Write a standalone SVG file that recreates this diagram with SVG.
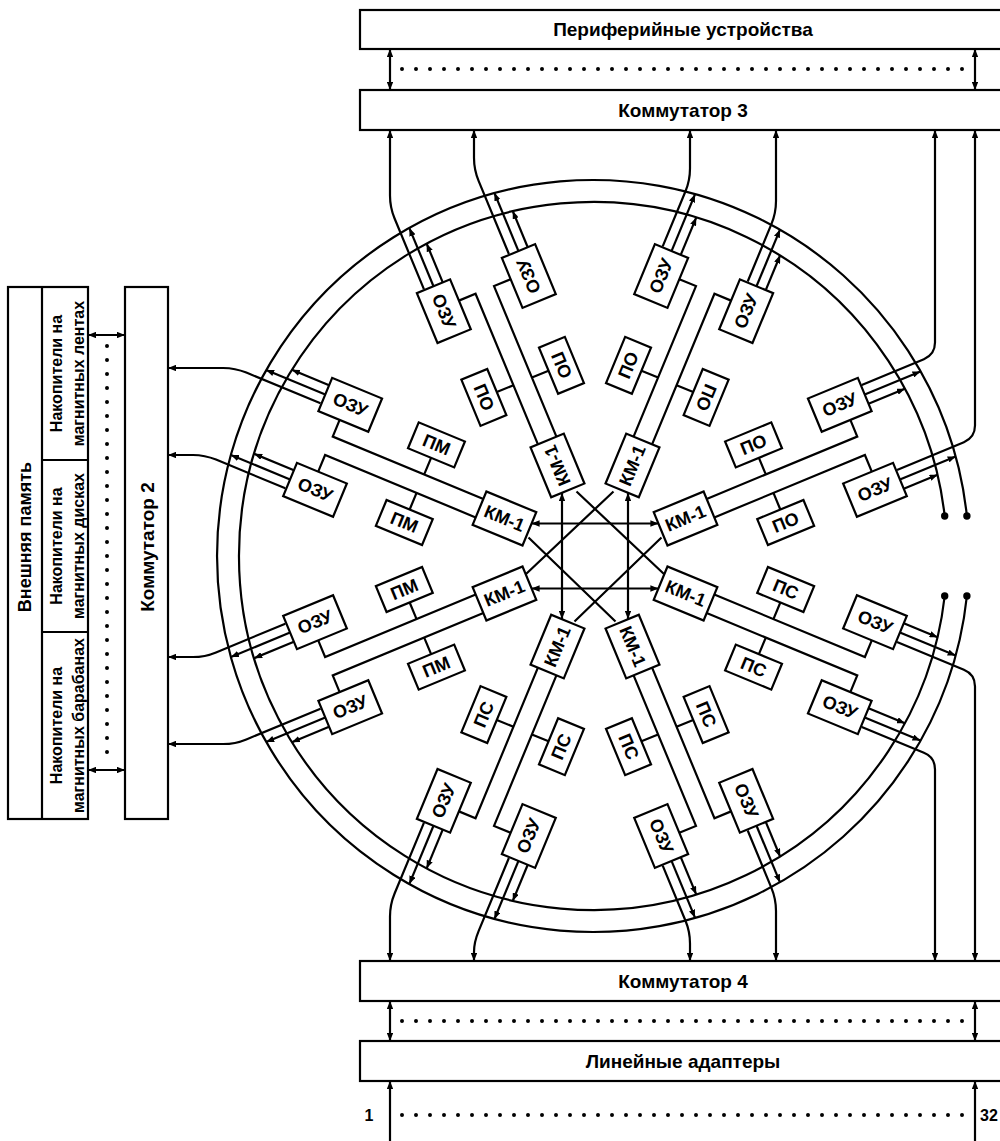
<svg xmlns="http://www.w3.org/2000/svg" width="1000" height="1141" viewBox="0 0 1000 1141">
<style>
.b{fill:#fff;stroke:#000;stroke-width:2.2}
.l{fill:none;stroke:#000;stroke-width:2.2}
.d{fill:none;stroke:#000;stroke-width:4;stroke-linecap:round;stroke-dasharray:0 14}
.t{font-family:"Liberation Sans",Arial,sans-serif;font-weight:bold;font-size:18px;text-anchor:middle;dominant-baseline:central}
.h{font-size:19px}
.s{font-size:16px}
.n{font-size:16px}
</style>
<defs>
<marker id="a" viewBox="0 0 10 8" refX="10" refY="4" markerWidth="8" markerHeight="6.4" markerUnits="userSpaceOnUse" orient="auto-start-reverse"><path d="M0 0L10 4L0 8z"/></marker>
</defs>
<rect width="1000" height="1141" fill="#fff"/>

<g id="connectors" class="l">
  <path d="M944.7 516A354 354 0 1 0 944.7 596"/>
  <path d="M966.9 516A376 376 0 1 0 966.9 596"/>
  <circle cx="944.7" cy="516" r="2.6" fill="#000"/>
  <circle cx="966.9" cy="516" r="2.6" fill="#000"/>
  <circle cx="944.7" cy="596" r="2.6" fill="#000"/>
  <circle cx="966.9" cy="596" r="2.6" fill="#000"/>

  <path marker-start="url(#a)" marker-end="url(#a)" d="M531.6 523.5H658.4"/>
  <path marker-start="url(#a)" marker-end="url(#a)" d="M531.6 588.5H658.4"/>
  <path marker-start="url(#a)" marker-end="url(#a)" d="M562 493V619"/>
  <path marker-start="url(#a)" marker-end="url(#a)" d="M628 493V619"/>
  <path d="M576.5 491.5L664.5 574.5M613.5 491.5L525.5 574.5M528.5 537.5L615.5 621.5M661.5 537.5L574.5 621.5"/>

  <g transform="translate(595 556) rotate(-22.5)">
    <path d="M125 -10H288V-28M125 10H288V28M189 -10V-28M189 10V28"/>
    <path marker-end="url(#a)" d="M311 -46H371.3"/><path marker-end="url(#a)" d="M311 -36H350.3"/>
    <path marker-end="url(#a)" d="M311 46H371.3"/><path marker-end="url(#a)" d="M311 56H347.6"/>
  </g>
  <g transform="translate(595 556) rotate(22.5)">
    <path d="M125 -10H288V-28M125 10H288V28M189 -10V-28M189 10V28"/>
    <path marker-end="url(#a)" d="M311 -46H371.3"/><path marker-end="url(#a)" d="M311 -56H347.6"/>
    <path marker-end="url(#a)" d="M311 46H371.3"/><path marker-end="url(#a)" d="M311 36H350.3"/>
  </g>
  <g transform="translate(595 556) rotate(67.5)">
    <path d="M125 -10H288V-28M125 10H288V28M189 -10V-28M189 10V28"/>
    <path marker-end="url(#a)" d="M311 -46H372.4"/><path marker-end="url(#a)" d="M311 -56H348.7"/>
    <path marker-end="url(#a)" d="M311 46H372.4"/><path marker-end="url(#a)" d="M311 36H351.4"/>
  </g>
  <g transform="translate(595 556) rotate(112.5)">
    <path d="M125 -10H288V-28M125 10H288V28M189 -10V-28M189 10V28"/>
    <path marker-end="url(#a)" d="M311 -46H374"/><path marker-end="url(#a)" d="M311 -56H350.3"/>
    <path marker-end="url(#a)" d="M311 46H374"/><path marker-end="url(#a)" d="M311 36H353"/>
  </g>
  <g transform="translate(595 556) rotate(157.5)">
    <path d="M125 -10H288V-28M125 10H288V28M189 -10V-28M189 10V28"/>
    <path marker-end="url(#a)" d="M311 -46H375"/><path marker-end="url(#a)" d="M311 -56H351.3"/>
    <path marker-end="url(#a)" d="M311 46H375"/><path marker-end="url(#a)" d="M311 36H354"/>
  </g>
  <g transform="translate(595 556) rotate(202.5)">
    <path d="M125 -10H288V-28M125 10H288V28M189 -10V-28M189 10V28"/>
    <path marker-end="url(#a)" d="M311 -46H375"/><path marker-end="url(#a)" d="M311 -36H354"/>
    <path marker-end="url(#a)" d="M311 46H375"/><path marker-end="url(#a)" d="M311 56H351.3"/>
  </g>
  <g transform="translate(595 556) rotate(247.5)">
    <path d="M125 -10H288V-28M125 10H288V28M189 -10V-28M189 10V28"/>
    <path marker-end="url(#a)" d="M311 -46H374"/><path marker-end="url(#a)" d="M311 -36H353"/>
    <path marker-end="url(#a)" d="M311 46H374"/><path marker-end="url(#a)" d="M311 56H350.3"/>
  </g>
  <g transform="translate(595 556) rotate(292.5)">
    <path d="M125 -10H288V-28M125 10H288V28M189 -10V-28M189 10V28"/>
    <path marker-end="url(#a)" d="M311 -46H372.4"/><path marker-end="url(#a)" d="M311 -36H351.4"/>
    <path marker-end="url(#a)" d="M311 46H372.4"/><path marker-end="url(#a)" d="M311 56H348.7"/>
  </g>

  <path marker-end="url(#a)" d="M423.9 289.2L394.6 218.5Q390 207.4 390 195.4V130"/>
  <path marker-end="url(#a)" d="M508.9 254L478.6 180.9Q474 169.8 474 157.8V130"/>
  <path marker-end="url(#a)" d="M662.7 246.3L685.4 191.5Q690 180.4 690 168.4V130"/>
  <path marker-end="url(#a)" d="M747.7 281.5L771.4 224.2Q776 213.1 776 201.1V130"/>
  <path marker-end="url(#a)" d="M861.8 384.9L923.9 359.2Q935 354.6 935 342.6V130"/>
  <path marker-end="url(#a)" d="M897 469.9L963.9 442.2Q975 437.6 975 425.6V130"/>
  <path marker-end="url(#a)" d="M320.5 403.3L246.3 372.6Q235.2 368 223.2 368H168"/>
  <path marker-end="url(#a)" d="M285.3 488.3L216 459.6Q204.9 455 192.9 455H168"/>
  <path marker-end="url(#a)" d="M285.3 623.7L216 652.4Q204.9 657 192.9 657H168"/>
  <path marker-end="url(#a)" d="M320.5 708.7L246.3 739.4Q235.2 744 223.2 744H168"/>
  <path marker-end="url(#a)" d="M423.9 822.8L394.6 893.5Q390 904.6 390 916.6V961"/>
  <path marker-end="url(#a)" d="M508.9 858L478.6 931.1Q474 942.2 474 952V961"/>
  <path marker-end="url(#a)" d="M662.7 865.7L685.4 920.5Q690 931.6 690 943.6V961"/>
  <path marker-end="url(#a)" d="M747.7 830.5L771.4 887.8Q776 898.9 776 910.9V961"/>
  <path marker-end="url(#a)" d="M861.8 727.1L923.9 752.8Q935 757.4 935 769.4V961"/>
  <path marker-end="url(#a)" d="M897 642.1L963.9 669.8Q975 674.4 975 686.4V961"/>

  <path marker-start="url(#a)" marker-end="url(#a)" d="M390 49V90"/>
  <path marker-start="url(#a)" marker-end="url(#a)" d="M975 49V90"/>
  <path marker-start="url(#a)" marker-end="url(#a)" d="M390 1001V1041"/>
  <path marker-start="url(#a)" marker-end="url(#a)" d="M975 1001V1041"/>
  <path marker-start="url(#a)" d="M390 1081V1141"/>
  <path marker-start="url(#a)" d="M975 1081V1141"/>
  <path marker-start="url(#a)" marker-end="url(#a)" d="M88 335H125"/>
  <path marker-start="url(#a)" marker-end="url(#a)" d="M88 770H125"/>
  <path class="d" d="M402 69H966M402 1021H966M402 1115H966M107 346V760"/>
</g>

<g id="nodes">
  <g id="peripheral"><rect class="b" x="360" y="10" width="660" height="39"/><text class="t h" x="683" y="29.5">Периферийные устройства</text></g>
  <g id="kommutator3"><rect class="b" x="360" y="90" width="660" height="40"/><text class="t h" x="683" y="110">Коммутатор 3</text></g>
  <g id="kommutator4"><rect class="b" x="360" y="961" width="660" height="40"/><text class="t h" x="683" y="981">Коммутатор 4</text></g>
  <g id="adapters"><rect class="b" x="360" y="1041" width="660" height="40"/><text class="t h" x="683" y="1061">Линейные адаптеры</text></g>
  <g id="lbl-1"><text class="t n" x="369" y="1115">1</text></g>
  <g id="lbl-32"><text class="t n" x="989" y="1115">32</text></g>
  <g id="kommutator2"><rect class="b" x="125" y="287" width="43" height="532"/><text class="t h" transform="translate(147 547) rotate(-90)">Коммутатор 2</text></g>
  <g id="ext-memory">
    <rect class="b" x="8" y="287" width="80" height="532"/>
    <path class="l" d="M42 287V819M42 460H88M42 632H88"/>
    <text class="t" transform="translate(25 537) rotate(-90)">Внешняя память</text>
    <text class="t s" transform="translate(56 373.5) rotate(-90)">Накопители на</text>
    <text class="t s" transform="translate(78 373.5) rotate(-90)">магнитных лентах</text>
    <text class="t s" transform="translate(56 546) rotate(-90)">Накопители на</text>
    <text class="t s" transform="translate(78 546) rotate(-90)">магнитных дисках</text>
    <text class="t s" transform="translate(56 725.5) rotate(-90)">Накопители на</text>
    <text class="t s" transform="translate(78 725.5) rotate(-90)">магнитных барабанах</text>
  </g>

  <g id="spoke-ru" transform="translate(595 556) rotate(-22.5)">
    <g id="km-ru"><rect class="b" x="71" y="-18" width="54" height="36"/><text class="t" transform="translate(98 0)">КМ-1</text></g>
    <g id="po-ru-a"><rect class="b" x="164" y="-56" width="50" height="28"/><text class="t" transform="translate(189 -42)">ПО</text></g>
    <g id="po-ru-b"><rect class="b" x="164" y="28" width="50" height="28"/><text class="t" transform="translate(189 42)">ПО</text></g>
    <g id="ozu-ru-a"><rect class="b" x="257" y="-64" width="54" height="36"/><text class="t" transform="translate(284 -46)">ОЗУ</text></g>
    <g id="ozu-ru-b"><rect class="b" x="257" y="28" width="54" height="36"/><text class="t" transform="translate(284 46)">ОЗУ</text></g>
  </g>
  <g id="spoke-rl" transform="translate(595 556) rotate(22.5)">
    <g id="km-rl"><rect class="b" x="71" y="-18" width="54" height="36"/><text class="t" transform="translate(98 0)">КМ-1</text></g>
    <g id="ps-rl-a"><rect class="b" x="164" y="-56" width="50" height="28"/><text class="t" transform="translate(189 -42)">ПС</text></g>
    <g id="ps-rl-b"><rect class="b" x="164" y="28" width="50" height="28"/><text class="t" transform="translate(189 42)">ПС</text></g>
    <g id="ozu-rl-a"><rect class="b" x="257" y="-64" width="54" height="36"/><text class="t" transform="translate(284 -46)">ОЗУ</text></g>
    <g id="ozu-rl-b"><rect class="b" x="257" y="28" width="54" height="36"/><text class="t" transform="translate(284 46)">ОЗУ</text></g>
  </g>
  <g id="spoke-br" transform="translate(595 556) rotate(67.5)">
    <g id="km-br"><rect class="b" x="71" y="-18" width="54" height="36"/><text class="t" transform="translate(98 0)">КМ-1</text></g>
    <g id="ps-br-a"><rect class="b" x="164" y="-56" width="50" height="28"/><text class="t" transform="translate(189 -42)">ПС</text></g>
    <g id="ps-br-b"><rect class="b" x="164" y="28" width="50" height="28"/><text class="t" transform="translate(189 42)">ПС</text></g>
    <g id="ozu-br-a"><rect class="b" x="257" y="-64" width="54" height="36"/><text class="t" transform="translate(284 -46)">ОЗУ</text></g>
    <g id="ozu-br-b"><rect class="b" x="257" y="28" width="54" height="36"/><text class="t" transform="translate(284 46)">ОЗУ</text></g>
  </g>
  <g id="spoke-bl" transform="translate(595 556) rotate(112.5)">
    <g id="km-bl"><rect class="b" x="71" y="-18" width="54" height="36"/><text class="t" transform="translate(98 0) rotate(180)">КМ-1</text></g>
    <g id="ps-bl-a"><rect class="b" x="164" y="-56" width="50" height="28"/><text class="t" transform="translate(189 -42) rotate(180)">ПС</text></g>
    <g id="ps-bl-b"><rect class="b" x="164" y="28" width="50" height="28"/><text class="t" transform="translate(189 42) rotate(180)">ПС</text></g>
    <g id="ozu-bl-a"><rect class="b" x="257" y="-64" width="54" height="36"/><text class="t" transform="translate(284 -46) rotate(180)">ОЗУ</text></g>
    <g id="ozu-bl-b"><rect class="b" x="257" y="28" width="54" height="36"/><text class="t" transform="translate(284 46) rotate(180)">ОЗУ</text></g>
  </g>
  <g id="spoke-ll" transform="translate(595 556) rotate(157.5)">
    <g id="km-ll"><rect class="b" x="71" y="-18" width="54" height="36"/><text class="t" transform="translate(98 0) rotate(180)">КМ-1</text></g>
    <g id="pm-ll-a"><rect class="b" x="164" y="-56" width="50" height="28"/><text class="t" transform="translate(189 -42) rotate(180)">ПМ</text></g>
    <g id="pm-ll-b"><rect class="b" x="164" y="28" width="50" height="28"/><text class="t" transform="translate(189 42) rotate(180)">ПМ</text></g>
    <g id="ozu-ll-a"><rect class="b" x="257" y="-64" width="54" height="36"/><text class="t" transform="translate(284 -46) rotate(180)">ОЗУ</text></g>
    <g id="ozu-ll-b"><rect class="b" x="257" y="28" width="54" height="36"/><text class="t" transform="translate(284 46) rotate(180)">ОЗУ</text></g>
  </g>
  <g id="spoke-ul" transform="translate(595 556) rotate(202.5)">
    <g id="km-ul"><rect class="b" x="71" y="-18" width="54" height="36"/><text class="t" transform="translate(98 0) rotate(180)">КМ-1</text></g>
    <g id="pm-ul-a"><rect class="b" x="164" y="-56" width="50" height="28"/><text class="t" transform="translate(189 -42) rotate(180)">ПМ</text></g>
    <g id="pm-ul-b"><rect class="b" x="164" y="28" width="50" height="28"/><text class="t" transform="translate(189 42) rotate(180)">ПМ</text></g>
    <g id="ozu-ul-a"><rect class="b" x="257" y="-64" width="54" height="36"/><text class="t" transform="translate(284 -46) rotate(180)">ОЗУ</text></g>
    <g id="ozu-ul-b"><rect class="b" x="257" y="28" width="54" height="36"/><text class="t" transform="translate(284 46) rotate(180)">ОЗУ</text></g>
  </g>
  <g id="spoke-tl" transform="translate(595 556) rotate(247.5)">
    <g id="km-tl"><rect class="b" x="71" y="-18" width="54" height="36"/><text class="t" transform="translate(98 0)">КМ-1</text></g>
    <g id="po-tl-a"><rect class="b" x="164" y="-56" width="50" height="28"/><text class="t" transform="translate(189 -42) rotate(180)">ПО</text></g>
    <g id="po-tl-b"><rect class="b" x="164" y="28" width="50" height="28"/><text class="t" transform="translate(189 42) rotate(180)">ПО</text></g>
    <g id="ozu-tl-a"><rect class="b" x="257" y="-64" width="54" height="36"/><text class="t" transform="translate(284 -46) rotate(180)">ОЗУ</text></g>
    <g id="ozu-tl-b"><rect class="b" x="257" y="28" width="54" height="36"/><text class="t" transform="translate(284 46)">ОЗУ</text></g>
  </g>
  <g id="spoke-tr" transform="translate(595 556) rotate(292.5)">
    <g id="km-tr"><rect class="b" x="71" y="-18" width="54" height="36"/><text class="t" transform="translate(98 0)">КМ-1</text></g>
    <g id="po-tr-a"><rect class="b" x="164" y="-56" width="50" height="28"/><text class="t" transform="translate(189 -42)">ПО</text></g>
    <g id="po-tr-b"><rect class="b" x="164" y="28" width="50" height="28"/><text class="t" transform="translate(189 42) rotate(180)">ПО</text></g>
    <g id="ozu-tr-a"><rect class="b" x="257" y="-64" width="54" height="36"/><text class="t" transform="translate(284 -46)">ОЗУ</text></g>
    <g id="ozu-tr-b"><rect class="b" x="257" y="28" width="54" height="36"/><text class="t" transform="translate(284 46)">ОЗУ</text></g>
  </g>
</g>
</svg>
